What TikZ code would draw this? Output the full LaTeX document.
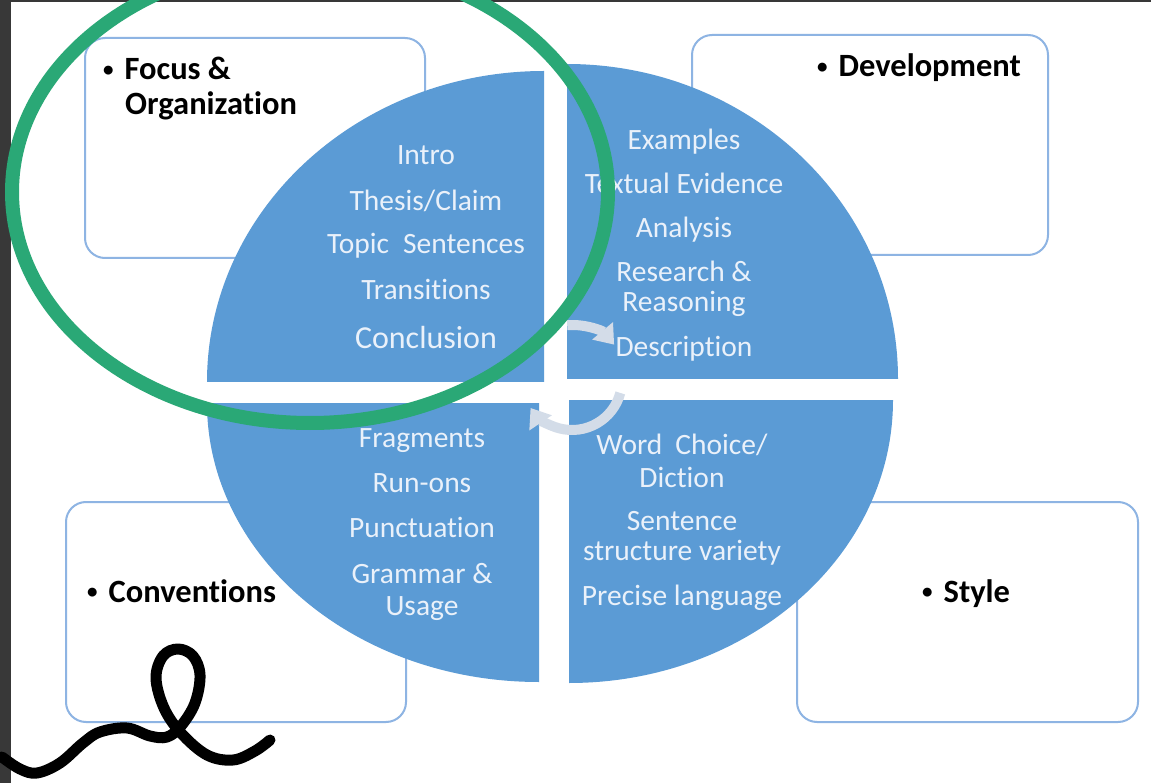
\documentclass[tikz,border=0pt]{standalone}
\usepackage{fontspec}
\setmainfont{Carlito}[Ligatures={NoCommon}]
\usetikzlibrary{arrows.meta}
\definecolor{qblue}{HTML}{5B9BD5}
\definecolor{bord}{HTML}{8EB4E3}
\definecolor{qtext}{HTML}{EAF1FA}
\definecolor{grn}{HTML}{2AA876}
\definecolor{arrc}{HTML}{D3DCE8}
\definecolor{darkedge}{HTML}{383838}
\newcommand{\mybul}{{\fontsize{21}{21}\selectfont\raisebox{3.5pt}{•}}\hspace{11pt}}
\begin{document}
\begin{tikzpicture}[x=1pt,y=-1pt,
  box/.style={draw=bord, line width=2pt, rounded corners=20pt, fill=white,
    minimum width=#1, minimum height=220pt, inner sep=0pt},
  lab/.style={font=\fontsize{32.5}{35}\selectfont\bfseries, anchor=base west, inner sep=0pt},
  qt/.style={font=\fontsize{29.5}{32}\selectfont, text=qtext, anchor=base, inner sep=0pt},
  cyc/.style={draw=arrc, line width=10pt, -{Triangle[width=26pt,length=18pt]}}
]
\useasboundingbox (0,0) rectangle (1151,783);
\clip (0,0) rectangle (1151,783);
\fill[white] (0,0) rectangle (1151,783);
\fill[darkedge] (0,0) rectangle (11,783);
\fill[darkedge] (0,0) rectangle (1151,2);

% boxes
\node[box=340pt] (bTL) at (255,148) {};
\node[box=356pt] (bTR) at (870,145) {};
\node[box=340pt] (bBL) at (236,612) {};
\node[box=341pt] (bBR) at (967.5,612) {};

% quadrants
\fill[qblue] (544,382) -- (207,382) arc[start angle=180,end angle=90,x radius=337pt,y radius=311pt] -- cycle;
\fill[qblue] (567,379) -- (567,64) arc[start angle=90,end angle=0,x radius=331pt,y radius=315pt] -- cycle;
\fill[qblue] (569,400) -- (893,400) arc[start angle=0,end angle=-90,x radius=324pt,y radius=283pt] -- cycle;
\fill[qblue] (539,403) -- (539,682) arc[start angle=270,end angle=180,x radius=332pt,y radius=279pt] -- cycle;

% box labels
\node[lab] (lF) at (103,80) {\mybul Focus \&};
\node[lab] (lO) at (125,115) {Organization};
\node[lab] (lD) at (817,77) {\mybul Development};
\node[lab] (lC) at (87,602) {\mybul Conventions};
\node[lab] (lS) at (922,602) {\mybul Style};

% cycle arrows
\coordinate (ac) at (572,380);
\draw[cyc] ([shift={(95:55pt)}]ac) arc[start angle=95,end angle=40,radius=55pt];
\draw[cyc] ([shift={(-15:50pt)}]ac) arc[start angle=-15,end angle=-146,radius=50pt];

% quadrant texts
\node[qt] (t1) at (426,165) {Intro};
\node[qt] (t2) at (426,211) {Thesis/Claim};
\node[qt] (t3) at (426,254) {Topic\hspace{14pt}Sentences};
\node[qt] (t4) at (426,300) {Transitions};
\node[qt,font=\fontsize{32}{35}\selectfont] (t5) at (426,349) {Conclusion};

\node[qt] (r1) at (684,150) {Examples};
\node[qt] (r2) at (684,194) {Textual Evidence};
\node[qt] (r3) at (684,238) {Analysis};
\node[qt] (r4) at (684,282) {Research \&};
\node[qt] (r5) at (684,312) {Reasoning};
\node[qt] (r6) at (684,357) {Description};

\node[qt] (c1) at (422,447) {Fragments};
\node[qt] (c2) at (422,492) {Run-ons};
\node[qt] (c3) at (422,537) {Punctuation};
\node[qt] (c4) at (422,583) {Grammar \&};
\node[qt] (c5) at (422,615) {Usage};

\node[qt] (s1) at (682,454) {Word\hspace{13pt}Choice/};
\node[qt] (s2) at (682,487) {Diction};
\node[qt] (s3) at (682,530) {Sentence};
\node[qt] (s4) at (682,560) {structure variety};
\node[qt] (s5) at (682,605) {Precise language};

% green hand-drawn ellipse
\draw[grn, line width=14pt] (310,192) ellipse[x radius=298pt, y radius=231pt];

% black squiggle
\draw[black, line width=11pt, line cap=round, line join=round]
  plot[smooth, tension=0.6] coordinates {(2,757) (20,769) (37,773) (60,763) (83,743) (100,732) (127,728) (150,736) (167,737) (181,726) (195,703) (200,675) (193,656) (178,649) (163,656) (156,678) (164,708) (181,733) (207,755) (233,760) (255,751) (270,740)};
\end{tikzpicture}
\end{document}
